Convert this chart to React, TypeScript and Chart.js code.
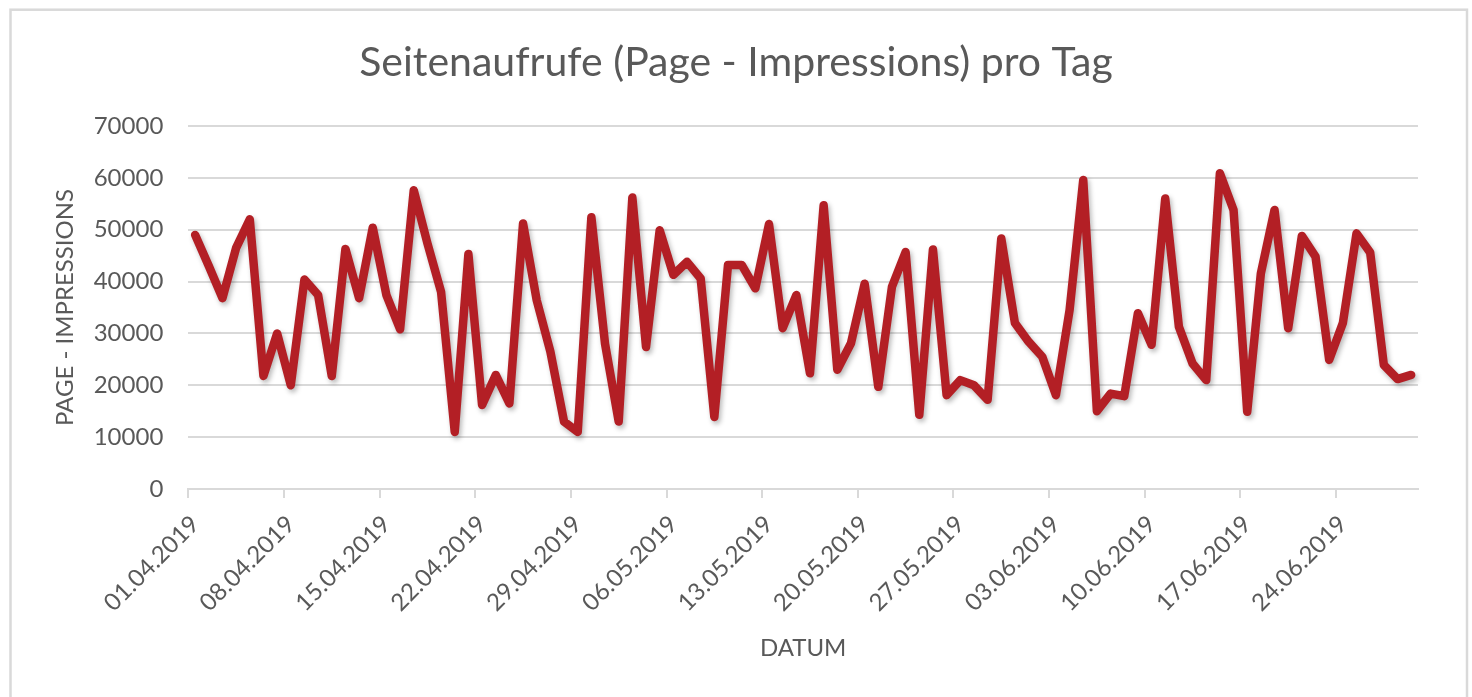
import React, { useEffect, useRef } from "react";
import { Chart, registerables } from "chart.js";

Chart.register(...registerables);

const TITLE = "Seitenaufrufe (Page - Impressions) pro Tag";
const Y_TITLE = "PAGE - IMPRESSIONS";
const X_TITLE = "DATUM";
const START_DATE_UTC = Date.UTC(2019, 3, 1);
const DAY_COUNT = 90;
const Y_MIN = 0;
const Y_MAX = 70000;
const Y_STEP = 10000;
const LABEL_EVERY = 7;

const pageImpressions = [
  49000, 43000, 36800, 46500, 52000, 21800, 30000, 20000, 40400, 37400,
  21800, 46300, 36800, 50400, 37400, 30800, 57600, 47400, 38000, 11000,
  45300, 16200, 22000, 16500, 51200, 36400, 26500, 13000, 11000, 52400,
  28000, 13000, 56200, 27400, 49900, 41300, 43800, 40600, 13900, 43200,
  43200, 38700, 51100, 31000, 37400, 22300, 54700, 23000, 28100, 39600,
  19700, 39000, 45700, 14300, 46200, 18100, 21000, 20000, 17200, 48300,
  32000, 28400, 25500, 18100, 34500, 59600, 15000, 18400, 17900, 33900,
  27800, 56000, 31300, 24200, 21000, 60900, 53800, 14900, 41600, 53800,
  31000, 48800, 44800, 24900, 32000, 49300, 45600, 23900, 21200, 22000,
];

const pad2 = (n: number) => (n < 10 ? "0" + n : String(n));
const dateLabels: string[] = [];
for (let i = 0; i < DAY_COUNT; i++) {
  const d = new Date(START_DATE_UTC + i * 86400000);
  dateLabels.push(
    pad2(d.getUTCDate()) + "." + pad2(d.getUTCMonth() + 1) + "." + d.getUTCFullYear()
  );
}

const TEXT = "#595959";
const GRID = "#d9d9d9";
const LINE = "#b31f25";
const FONT = "Lato, 'Open Sans', sans-serif";

const frameShadowPlugin = {
  id: "frameShadow",
  beforeDraw(chart: any) {
    const ctx = chart.ctx;
    ctx.save();
    ctx.fillStyle = "#ffffff";
    ctx.fillRect(0, 0, chart.width, chart.height);
    ctx.strokeStyle = GRID;
    ctx.lineWidth = 2.5;
    ctx.strokeRect(10.5, 9.7, 1456.5, 700);
    ctx.restore();
  },
  beforeDatasetDraw(chart: any) {
    const ctx = chart.ctx;
    ctx.save();
    ctx.shadowColor = "rgba(0,0,0,0.28)";
    ctx.shadowBlur = 5;
    ctx.shadowOffsetX = 2;
    ctx.shadowOffsetY = 3;
  },
  afterDatasetDraw(chart: any) {
    chart.ctx.restore();
  },
};

export default function App() {
  const canvasRef = useRef<HTMLCanvasElement | null>(null);

  useEffect(() => {
    if (!canvasRef.current) return;
    const chart = new Chart(canvasRef.current, {
      type: "line",
      data: {
        labels: dateLabels,
        datasets: [
          {
            label: Y_TITLE,
            data: pageImpressions,
            borderColor: LINE,
            backgroundColor: LINE,
            borderWidth: 8.5,
            pointRadius: 0,
            pointHoverRadius: 0,
            tension: 0,
            borderJoinStyle: "round",
            borderCapStyle: "round",
            fill: false,
          },
        ],
      },
      plugins: [frameShadowPlugin],
      options: {
        responsive: false,
        animation: false,
        events: [],
        layout: { padding: { left: 54, right: 54, top: 0, bottom: 0 } },
        plugins: {
          legend: { display: false },
          tooltip: { enabled: false },
          title: {
            display: true,
            text: TITLE,
            color: TEXT,
            font: { family: FONT, size: 41, weight: "normal" as any, lineHeight: 1.2 },
            padding: { top: 38, bottom: 38.8 },
          },
        },
        scales: {
          x: {
            type: "category",
            offset: true,
            afterFit(scale: any) {
              scale.height = 697 - 489;
            },
            border: { display: true, color: GRID, width: 2 },
            grid: {
              offset: true,
              drawOnChartArea: false,
              drawTicks: true,
              tickLength: 9,
              lineWidth: 2,
              color: (ctx: any) =>
                typeof ctx.index === "number" && ctx.index % LABEL_EVERY === 0 ? GRID : "rgba(0,0,0,0)",
            },
            ticks: {
              autoSkip: false,
              minRotation: 45,
              maxRotation: 45,
              padding: 12,
              color: TEXT,
              font: { family: FONT, size: 24 },
              callback: (_v: any, i: number) => (i % LABEL_EVERY === 0 ? dateLabels[i] : ""),
            },
            title: {
              display: true,
              text: X_TITLE,
              color: TEXT,
              font: { family: FONT, size: 24, lineHeight: 1.2 },
              padding: { top: 0, bottom: 34.6 },
            },
          },
          y: {
            min: Y_MIN,
            max: Y_MAX,
            afterFit(scale: any) {
              scale.width = 188.3 - 54;
            },
            border: { display: false },
            grid: { color: GRID, lineWidth: 2, drawTicks: false },
            ticks: {
              stepSize: Y_STEP,
              padding: 25,
              color: TEXT,
              font: { family: FONT, size: 24 },
              callback: (v: any) => String(v),
            },
            title: {
              display: true,
              text: Y_TITLE,
              color: TEXT,
              font: { family: FONT, size: 24, lineHeight: 1.2 },
              padding: { top: -3.4, bottom: 0 },
            },
          },
        },
      },
    });
    return () => chart.destroy();
  }, []);

  return (
    <div style={{ position: "fixed", left: 0, top: 0, width: 1472, height: 697, background: "#fff" }}>
      <canvas ref={canvasRef} width={1472} height={697} style={{ width: 1472, height: 697, display: "block" }} />
    </div>
  );
}
